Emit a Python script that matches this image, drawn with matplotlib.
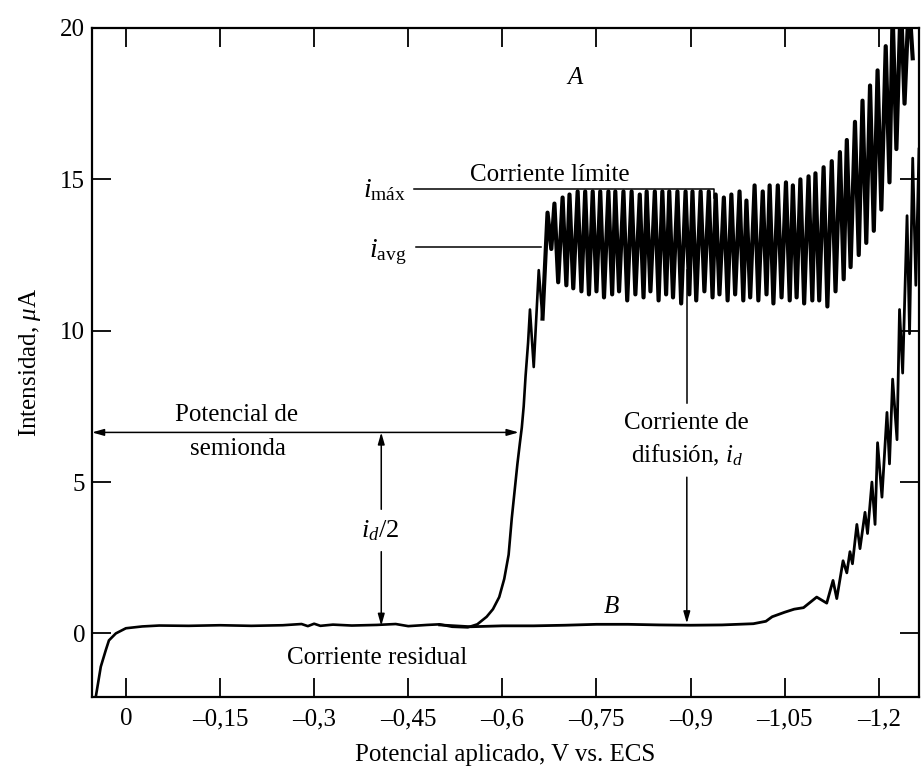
import matplotlib
matplotlib.use('Agg')
import matplotlib.pyplot as plt

# Curve A (analyte): residual current and the rising part of the wave
a_pot = [0.048, 0.040, 0.032, 0.027, 0.016, 0.0, -0.026, -0.053, -0.10, -0.15, -0.20, -0.25,
         -0.28, -0.29, -0.30, -0.31, -0.33, -0.36, -0.40, -0.43, -0.45, -0.48, -0.50, -0.52,
         -0.545, -0.56, -0.575, -0.585, -0.595, -0.603, -0.61, -0.615, -0.62, -0.624, -0.628,
         -0.631, -0.634, -0.637, -0.641, -0.644, -0.650, -0.658, -0.664]
a_cur = [-2.1, -1.1, -0.55, -0.23, 0.0, 0.17, 0.23, 0.26, 0.25, 0.27, 0.25, 0.27,
         0.31, 0.24, 0.32, 0.25, 0.29, 0.26, 0.28, 0.31, 0.24, 0.28, 0.30, 0.22,
         0.20, 0.30, 0.55, 0.80, 1.2, 1.8, 2.6, 3.8, 4.8, 5.6, 6.3,
         6.8, 7.5, 8.5, 9.6, 10.7, 8.8, 12.0, 10.4]

# Curve A: drop oscillations on the limiting-current plateau (top and bottom of each drop)
a_peak_pot = [-0.672, -0.683, -0.696, -0.707, -0.720, -0.732, -0.744, -0.756, -0.769, -0.780,
              -0.793, -0.806, -0.819, -0.830, -0.843, -0.855, -0.866, -0.879, -0.892, -0.903,
              -0.916, -0.929, -0.940, -0.953, -0.965, -0.978, -0.989, -1.002, -1.015, -1.026,
              -1.039, -1.052, -1.063, -1.075, -1.088, -1.099, -1.112, -1.125, -1.138, -1.149,
              -1.162, -1.174, -1.186, -1.198, -1.211, -1.222, -1.235, -1.248]
a_peak_cur = [13.9, 14.2, 14.4, 14.5, 14.6, 14.6, 14.6, 14.6, 14.6, 14.6,
              14.6, 14.6, 14.5, 14.6, 14.6, 14.6, 14.6, 14.6, 14.6, 14.6,
              14.6, 14.6, 14.5, 14.4, 14.5, 14.6, 14.3, 14.8, 14.6, 14.8,
              14.8, 14.9, 14.8, 15.0, 15.1, 15.2, 15.4, 15.6, 15.9, 16.3,
              16.9, 17.6, 18.1, 18.6, 19.4, 20.5, 21.0, 21.0]
a_trough_pot = [-0.678, -0.689, -0.702, -0.713, -0.726, -0.738, -0.750, -0.762, -0.775, -0.786,
                -0.799, -0.812, -0.825, -0.836, -0.849, -0.861, -0.872, -0.885, -0.898, -0.909,
                -0.922, -0.935, -0.946, -0.959, -0.971, -0.984, -0.995, -1.008, -1.021, -1.032,
                -1.045, -1.058, -1.069, -1.081, -1.094, -1.105, -1.118, -1.131, -1.144, -1.155,
                -1.168, -1.180, -1.192, -1.204, -1.217, -1.228, -1.241, -1.254]
a_trough_cur = [12.7, 11.6, 11.5, 11.4, 11.3, 11.2, 11.3, 11.1, 11.2, 11.3,
                11.0, 11.2, 11.1, 11.3, 11.0, 11.2, 11.1, 10.9, 11.2, 11.0,
                11.3, 11.1, 11.2, 11.0, 11.2, 11.0, 11.1, 11.0, 11.2, 10.9,
                11.1, 11.0, 11.1, 10.9, 11.0, 11.0, 10.8, 11.3, 11.7, 12.1,
                12.5, 12.9, 13.3, 14.0, 14.9, 16.0, 17.5, 19.0]

# Curve B (supporting electrolyte only)
b_pot = [-0.50, -0.55, -0.60, -0.65, -0.70, -0.75, -0.80, -0.85, -0.90, -0.95, -1.00, -1.02,
         -1.03, -1.05, -1.065, -1.08, -1.101, -1.117, -1.127, -1.133, -1.143, -1.149, -1.154,
         -1.158, -1.165, -1.170, -1.178, -1.182, -1.189, -1.194, -1.198, -1.205, -1.213, -1.217,
         -1.222, -1.229, -1.233, -1.238, -1.245, -1.249, -1.254, -1.259, -1.264]
b_cur = [0.28, 0.22, 0.25, 0.25, 0.27, 0.30, 0.30, 0.28, 0.27, 0.28, 0.32, 0.40,
         0.55, 0.70, 0.80, 0.85, 1.2, 1.0, 1.75, 1.15, 2.4, 2.0, 2.7,
         2.3, 3.6, 2.8, 4.0, 3.3, 5.0, 3.6, 6.3, 4.5, 7.3, 5.6,
         8.4, 6.4, 10.7, 8.6, 13.8, 9.9, 15.7, 11.5, 16.0]

x_ticks = [0, -0.15, -0.3, -0.45, -0.6, -0.75, -0.9, -1.05, -1.2]
x_tick_labels = ['0', '–0,15', '–0,3', '–0,45', '–0,6', '–0,75', '–0,9', '–1,05', '–1,2']
y_ticks = [0, 5, 10, 15, 20]

i_max = 14.68
i_avg = 12.76
e_half = -0.626
i_half = 6.64
i_resid = 0.25
e_diff = -0.894

plt.rcParams['font.family'] = ['Liberation Serif', 'DejaVu Serif']
plt.rcParams['mathtext.fontset'] = 'custom'
plt.rcParams['mathtext.rm'] = 'Liberation Serif'
plt.rcParams['mathtext.it'] = 'Liberation Serif:italic'

fig = plt.figure(figsize=(9.21, 7.67), dpi=100)
ax = fig.add_axes([0.0999, 0.0913, 0.8979, 0.8722])

osc_pot, osc_cur = [a_pot[-1]], [a_cur[-1]]
for p1, c1, p2, c2 in zip(a_peak_pot, a_peak_cur, a_trough_pot, a_trough_cur):
    osc_pot += [p1, p2]
    osc_cur += [c1, c2]

ax.plot(a_pot, a_cur, color='black', lw=1.9)
ax.plot(osc_pot, osc_cur, color='black', lw=3.0, solid_joinstyle='round')
ax.plot(b_pot, b_cur, color='black', lw=2.0, solid_joinstyle='round')

ax.set_xlim(0.054, -1.264)
ax.set_ylim(-2.1, 20)
ax.set_xticks(x_ticks)
ax.set_xticklabels(x_tick_labels)
ax.set_yticks(y_ticks)
ax.tick_params(direction='in', top=True, right=True, length=14, width=1.3,
               labelsize=18, pad=8)
ax.tick_params(axis='y', pad=5)
for s in ax.spines.values():
    s.set_linewidth(1.6)

ax.set_xlabel('Potencial aplicado, V vs. ECS', fontsize=18, labelpad=10)
ax.set_ylabel(r'Intensidad, $\mu$A', fontsize=18, labelpad=12)

fs = 18
# limiting current
ax.plot([-0.4595, -0.938, -0.938], [i_max, i_max, i_max - 0.3], color='black', lw=1.1)
ax.plot([-0.463, -0.662], [i_avg, i_avg], color='black', lw=1.1)
ax.text(-0.447, i_max - 0.05, r'$i_{\mathrm{máx}}$', fontsize=fs + 2, ha='right', va='center')
ax.text(-0.447, i_avg - 0.15, r'$i_{\mathrm{avg}}$', fontsize=fs + 2, ha='right', va='center')
ax.text(-0.676, 15.14, 'Corriente límite', fontsize=fs, ha='center', va='center')
ax.text(-0.715, 18.35, 'A', fontsize=fs, style='italic', ha='center', va='center')
ax.text(-0.774, 0.86, 'B', fontsize=fs, style='italic', ha='center', va='center')

# half-wave potential
ax.annotate('', xy=(e_half, i_half), xytext=(0.054, i_half),
            arrowprops=dict(arrowstyle='<|-|>,head_length=0.7,head_width=0.2',
                            color='black', lw=1.1, shrinkA=0, shrinkB=0))
ax.text(-0.177, 7.2, 'Potencial de', fontsize=fs, ha='center', va='center')
ax.text(-0.179, 6.1, 'semionda', fontsize=fs, ha='center', va='center')

# i_d / 2
ax.annotate('', xy=(-0.407, i_half), xytext=(-0.407, 4.1),
            arrowprops=dict(arrowstyle='-|>,head_length=0.7,head_width=0.2',
                            color='black', lw=1.1, shrinkA=0, shrinkB=0))
ax.annotate('', xy=(-0.407, i_resid), xytext=(-0.407, 2.7),
            arrowprops=dict(arrowstyle='-|>,head_length=0.7,head_width=0.2',
                            color='black', lw=1.1, shrinkA=0, shrinkB=0))
ax.text(-0.405, 3.4, r'$i_d/2$', fontsize=fs + 1, ha='center', va='center')

# diffusion current
ax.plot([e_diff, e_diff], [12.0, 7.6], color='black', lw=1.1)
ax.annotate('', xy=(e_diff, 0.33), xytext=(e_diff, 5.16),
            arrowprops=dict(arrowstyle='-|>,head_length=0.7,head_width=0.2',
                            color='black', lw=1.1, shrinkA=0, shrinkB=0))
ax.text(e_diff, 6.94, 'Corriente de', fontsize=fs, ha='center', va='center')
ax.text(e_diff, 5.88, r'difusión, $i_d$', fontsize=fs, ha='center', va='center')

ax.text(-0.40, -0.8, 'Corriente residual', fontsize=fs, ha='center', va='center')

fig.savefig('out.png', dpi=100)
